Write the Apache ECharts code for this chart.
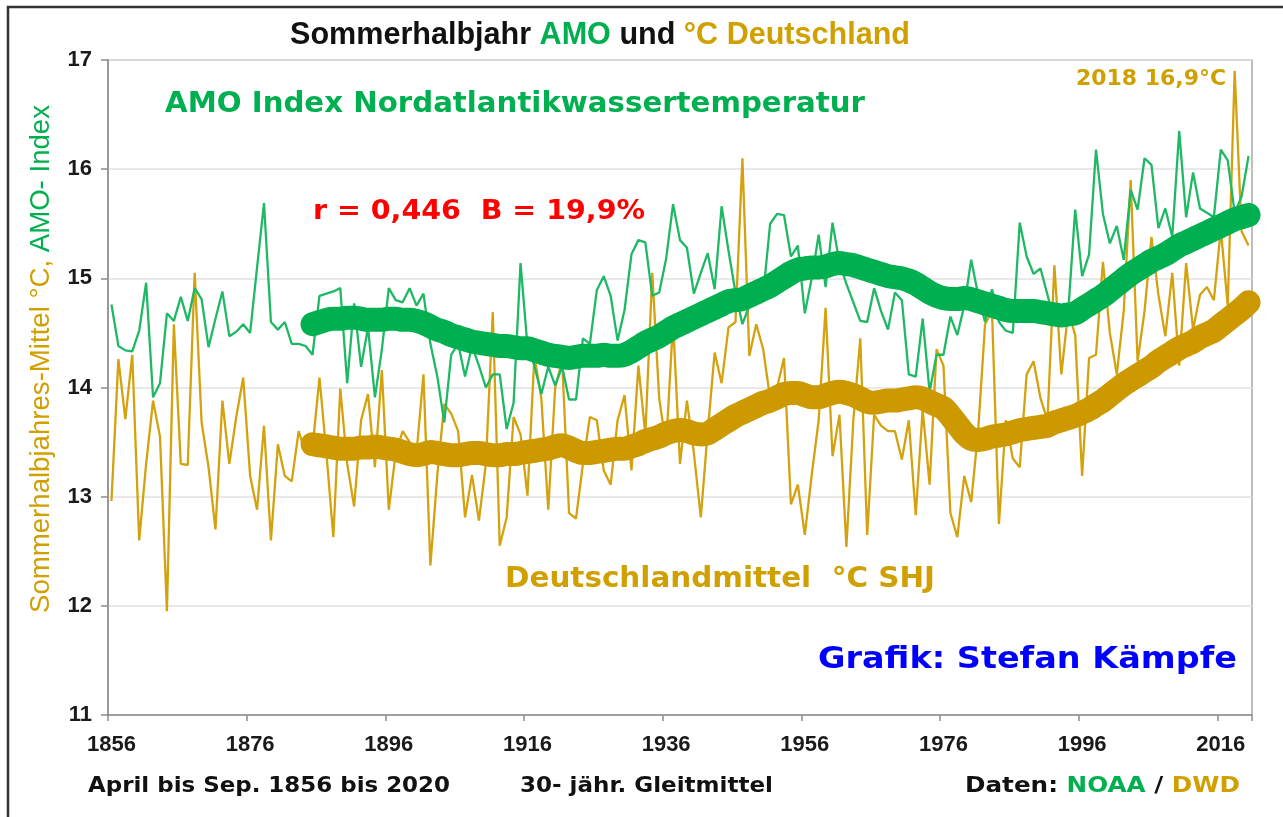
<!DOCTYPE html>
<html>
<head>
<meta charset="utf-8">
<title>Sommerhalbjahr AMO und °C Deutschland</title>
<script src="https://cdn.jsdelivr.net/npm/echarts@6/dist/echarts.min.js"></script>
<style>
  html, body { margin: 0; padding: 0; background: #fff; }
  #chart { width: 1283px; height: 817px; }
</style>
</head>
<body>
<div id="chart"></div>
<script>
// Jahre 1856..2020 (Kategorien)
const years = [];
for (let y = 1856; y <= 2020; y++) years.push(String(y));

// AMO Sommerhalbjahr (NOAA), 1856-2020
const amo = [
  14.76, 14.38, 14.34, 14.33, 14.52, 14.96, 13.91, 14.04, 14.68, 14.61,
  14.83, 14.61, 14.91, 14.81, 14.37, 14.63, 14.88, 14.47, 14.51, 14.58,
  14.50, 15.10, 15.69, 14.60, 14.53, 14.60, 14.40, 14.40, 14.38, 14.30,
  14.84, 14.86, 14.88, 14.91, 14.04, 14.77, 14.19, 14.55, 13.91, 14.35,
  14.91, 14.80, 14.78, 14.91, 14.75, 14.86, 14.40, 14.10, 13.68, 14.30,
  14.40, 14.10, 14.38, 14.20, 14.00, 14.12, 14.12, 13.62, 13.86, 15.14,
  14.38, 14.20, 13.94, 14.19, 14.02, 14.19, 13.89, 13.89, 14.45, 14.40,
  14.89, 15.02, 14.84, 14.43, 14.71, 15.22, 15.35, 15.33, 14.84, 14.87,
  15.18, 15.68, 15.35, 15.28, 14.86, 15.05, 15.23, 14.90, 15.66, 15.25,
  14.87, 14.58, 14.75, 14.85, 14.85, 15.50, 15.59, 15.58, 15.20, 15.30,
  14.68, 15.00, 15.40, 14.92, 15.51, 15.14, 14.95, 14.78, 14.61, 14.60,
  14.91, 14.70, 14.53, 14.87, 14.80, 14.12, 14.10, 14.63, 13.96, 14.30,
  14.30, 14.65, 14.48, 14.75, 15.17, 14.85, 14.60, 14.90, 14.60, 14.52,
  14.50, 15.51, 15.20, 15.04, 15.09, 14.85, 14.60, 14.70, 14.70, 15.63,
  15.02, 15.22, 16.18, 15.59, 15.32, 15.48, 15.17, 15.81, 15.63, 16.10,
  16.04, 15.46, 15.64, 15.38, 16.35, 15.56, 15.97, 15.64, 15.60, 15.56,
  16.18, 16.08, 15.60, 15.75, 16.12
];

// Deutschlandmittel °C April-September (DWD), 1856-2020
const dwd = [
  12.96, 14.26, 13.71, 14.30, 12.60, 13.30, 13.88, 13.55, 11.95, 14.58,
  13.30, 13.29, 15.05, 13.68, 13.27, 12.70, 13.88, 13.30, 13.73, 14.09,
  13.19, 12.88, 13.65, 12.60, 13.48, 13.19, 13.14, 13.60, 13.40, 13.45,
  14.09, 13.40, 12.63, 13.99, 13.30, 12.91, 13.70, 13.94, 13.27, 14.16,
  12.88, 13.40, 13.60, 13.50, 13.40, 14.12, 12.37, 13.20, 13.85, 13.76,
  13.60, 12.81, 13.20, 12.78, 13.30, 14.69, 12.55, 12.81, 13.73, 13.57,
  13.01, 14.29, 13.90, 12.88, 14.00, 14.25, 12.85, 12.80, 13.30, 13.73,
  13.70, 13.24, 13.11, 13.70, 13.93, 13.24, 14.20, 13.57, 15.05, 13.90,
  13.47, 14.60, 13.30, 13.88, 13.40, 12.81, 13.60, 14.32, 14.04, 14.55,
  14.60, 16.10, 14.29, 14.58, 14.35, 13.90, 14.00, 14.27, 12.93, 13.11,
  12.65, 13.20, 13.70, 14.73, 13.37, 13.75, 12.54, 13.70, 14.45, 12.65,
  13.75, 13.65, 13.60, 13.60, 13.34, 13.70, 12.83, 13.80, 13.11, 14.35,
  14.20, 12.85, 12.63, 13.19, 12.95, 13.60, 14.58, 14.70, 12.75, 13.70,
  13.35, 13.27, 14.12, 14.24, 13.90, 13.70, 15.12, 14.12, 14.70, 14.48,
  13.19, 14.27, 14.30, 15.15, 14.50, 14.12, 14.70, 15.90, 14.24, 14.70,
  15.38, 14.85, 14.47, 15.05, 14.20, 15.14, 14.53, 14.85, 14.92, 14.80,
  15.45, 14.75, 16.90, 15.43, 15.30
];

// 30-jähriges Gleitmittel, 1885-2020
const amoMean30 = [
  14.58,
  14.60, 14.62, 14.63, 14.63, 14.64, 14.64, 14.63, 14.62, 14.62, 14.62,
  14.63, 14.63, 14.62, 14.62, 14.61, 14.59, 14.56, 14.53, 14.51, 14.48,
  14.46, 14.44, 14.42, 14.41, 14.40, 14.39, 14.38, 14.38, 14.37, 14.36,
  14.36, 14.34, 14.32, 14.30, 14.29, 14.28, 14.27, 14.28, 14.29, 14.29,
  14.29, 14.30, 14.29, 14.29, 14.30, 14.33, 14.37, 14.41, 14.44, 14.47,
  14.51, 14.55, 14.58, 14.61, 14.64, 14.67, 14.70, 14.73, 14.76, 14.79,
  14.80, 14.81, 14.84, 14.87, 14.90, 14.93, 14.97, 15.01, 15.05, 15.08,
  15.09, 15.10, 15.10, 15.11, 15.13, 15.14, 15.13, 15.12, 15.10, 15.08,
  15.06, 15.04, 15.02, 15.01, 15.00, 14.98, 14.95, 14.91, 14.87, 14.84,
  14.82, 14.81, 14.81, 14.82, 14.81, 14.79, 14.77, 14.75, 14.73, 14.71,
  14.70, 14.70, 14.70, 14.70, 14.69, 14.68, 14.67, 14.66, 14.67, 14.68,
  14.72, 14.76, 14.80, 14.84, 14.89, 14.94, 14.99, 15.04, 15.08, 15.12,
  15.16, 15.19, 15.22, 15.26, 15.30, 15.33, 15.36, 15.39, 15.42, 15.45,
  15.48, 15.51, 15.54, 15.56, 15.58
];

const dwdMean30 = [
  13.48,
  13.47, 13.46, 13.45, 13.44, 13.44, 13.44, 13.45, 13.45, 13.46, 13.45,
  13.44, 13.43, 13.41, 13.39, 13.38, 13.39, 13.41, 13.40, 13.39, 13.38,
  13.38, 13.39, 13.40, 13.40, 13.39, 13.38, 13.38, 13.39, 13.39, 13.40,
  13.41, 13.42, 13.43, 13.44, 13.46, 13.47, 13.45, 13.42, 13.40, 13.40,
  13.41, 13.42, 13.43, 13.44, 13.44, 13.46, 13.48, 13.51, 13.53, 13.55,
  13.58, 13.60, 13.61, 13.60, 13.58, 13.57, 13.58, 13.62, 13.66, 13.70,
  13.74, 13.77, 13.80, 13.83, 13.86, 13.88, 13.91, 13.94, 13.95, 13.95,
  13.93, 13.91, 13.91, 13.93, 13.95, 13.96, 13.95, 13.93, 13.90, 13.87,
  13.86, 13.87, 13.88, 13.88, 13.89, 13.90, 13.91, 13.90, 13.87, 13.84,
  13.81, 13.74, 13.66, 13.58, 13.53, 13.52, 13.53, 13.55, 13.56, 13.57,
  13.59, 13.61, 13.62, 13.63, 13.64, 13.65, 13.68, 13.70, 13.72, 13.74,
  13.77, 13.80, 13.84, 13.88, 13.93, 13.98, 14.03, 14.07, 14.11, 14.15,
  14.19, 14.24, 14.28, 14.32, 14.36, 14.39, 14.42, 14.46, 14.49, 14.52,
  14.57, 14.62, 14.67, 14.72, 14.78
];
const meanStart = 1885;

// Farben
const GREEN = "#00b050";
const GREEN_THIN = "#1fb865";
const GOLD = "#cc9900";
const GOLD_THIN = "#d4a20f";
const GOLD_TEXT = "#d0a000";

const SANS = "'Liberation Sans', Arial, sans-serif";
const HEAVY = "'DejaVu Sans', 'Liberation Sans', sans-serif";

// Breite eines Textes auf die Breite im Original strecken
const measureCtx = document.createElement("canvas").getContext("2d");
function fitScale(text, font, width) {
  measureCtx.font = font;
  return width / measureCtx.measureText(text).width;
}

// einfacher Textbaustein für graphic
function label(text, x, y, width, font, fill, align) {
  return {
    type: "text",
    x: x,
    y: y,
    scaleX: fitScale(text, font, width),
    style: {
      text: text,
      fill: fill,
      font: font,
      textAlign: align || "left",
      textVerticalAlign: "middle",
    },
  };
}

// mehrfarbiger Text (alle Teile gleiche Schrift)
function richLabel(parts, x, y, width, font, align, rotation) {
  const rich = {};
  let text = "";
  let plain = "";
  parts.forEach((p, i) => {
    rich["p" + i] = { fill: p[1], font: font };
    text += "{p" + i + "|" + p[0] + "}";
    plain += p[0];
  });
  return {
    type: "text",
    x: x,
    y: y,
    rotation: rotation || 0,
    scaleX: fitScale(plain, font, width),
    style: {
      text: text,
      rich: rich,
      textAlign: align || "left",
      textVerticalAlign: "middle",
    },
  };
}

const pad = new Array(meanStart - 1856).fill(null);

const chart = echarts.init(document.getElementById("chart"));
const option = {
  animation: false,
  backgroundColor: "#fff",
  grid: {
    left: 108,
    right: 31,
    top: 60,
    bottom: 102,
    show: true,
    borderColor: "#a8a8a8",
    borderWidth: 1.5,
  },
  xAxis: {
    type: "category",
    data: years,
    boundaryGap: true,
    axisLine: { lineStyle: { color: "#8c8c8c", width: 1.5 } },
    axisTick: { show: true, interval: 19, length: 6, lineStyle: { color: "#8c8c8c", width: 1.5 } },
    axisLabel: {
      interval: 19,
      margin: 19,
      color: "#1a1a1a",
      fontSize: 22,
      fontWeight: "bold",
      fontFamily: SANS,
    },
    splitLine: { show: false },
  },
  yAxis: {
    type: "value",
    min: 11,
    max: 17,
    interval: 1,
    axisLine: { show: true, lineStyle: { color: "#8c8c8c", width: 1.5 } },
    axisTick: { show: true, length: 7, lineStyle: { color: "#8c8c8c", width: 1.5 } },
    axisLabel: {
      margin: 16,
      color: "#1a1a1a",
      fontSize: 22,
      fontWeight: "bold",
      fontFamily: SANS,
    },
    splitLine: { lineStyle: { color: "#e2e2e2", width: 1.5 } },
  },
  series: [
    {
      name: "DWD",
      type: "line",
      data: dwd,
      symbol: "none",
      lineStyle: { color: GOLD_THIN, width: 2.3 },
      z: 2,
    },
    {
      name: "AMO",
      type: "line",
      data: amo,
      symbol: "none",
      lineStyle: { color: GREEN_THIN, width: 2.3 },
      z: 3,
    },
    {
      name: "AMO 30J",
      type: "line",
      data: pad.concat(amoMean30),
      symbol: "none",
      smooth: 0.3,
      lineStyle: { color: GREEN, width: 24, cap: "round", join: "round" },
      z: 4,
    },
    {
      name: "DWD 30J",
      type: "line",
      data: pad.concat(dwdMean30),
      symbol: "none",
      smooth: 0.3,
      lineStyle: { color: GOLD, width: 24, cap: "round", join: "round" },
      z: 4,
    },
  ],
  graphic: [
    {
      type: "rect",
      shape: { x: 8, y: 7, width: 1320, height: 860 },
      style: { fill: "none", stroke: "#333", lineWidth: 2.5 },
      silent: true,
    },
    richLabel(
      [["Sommerhalbjahr ", "#111"], ["AMO", GREEN], [" und ", "#111"], ["°C Deutschland", GOLD_TEXT]],
      600, 35, 620, "bold 32px " + SANS, "center"
    ),
    richLabel(
      [["Sommerhalbjahres-Mittel °C, ", GOLD_TEXT], ["AMO- Index", GREEN]],
      42, 359, 508, "27px " + SANS, "center", Math.PI / 2
    ),
    label("AMO Index Nordatlantikwassertemperatur", 165, 104, 700, "bold 29px " + HEAVY, GREEN),
    label("r = 0,446  B = 19,9%", 313, 212, 332, "bold 27px " + HEAVY, "#ff0000"),
    label("Deutschlandmittel  °C SHJ", 505, 580, 430, "bold 28px " + HEAVY, GOLD_TEXT),
    label("Grafik: Stefan Kämpfe", 818, 660, 419, "bold 31px " + HEAVY, "#0000ff"),
    label("2018 16,9°C", 1226, 80, 150, "bold 21px " + HEAVY, GOLD_TEXT, "right"),
    label("April bis Sep. 1856 bis 2020", 88, 787, 362, "bold 21px " + HEAVY, "#111"),
    label("30- jähr. Gleitmittel", 520, 787, 253, "bold 21px " + HEAVY, "#111"),
    richLabel(
      [["Daten: ", "#111"], ["NOAA", GREEN], [" / ", "#111"], ["DWD", GOLD_TEXT]],
      965, 787, 275, "bold 21px " + HEAVY
    ),
  ],
};
chart.setOption(option);
</script>
</body>
</html>
